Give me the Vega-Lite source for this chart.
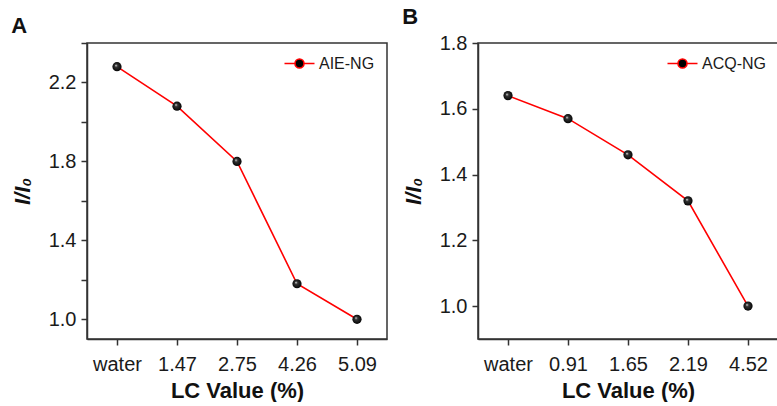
{
  "$schema": "https://vega.github.io/schema/vega-lite/v6.json",
  "padding": {"left": 10, "top": 5, "right": 0, "bottom": 0},
  "spacing": 13,
  "background": "white",
  "config": {
    "font": "Liberation Sans",
    "view": {"stroke": "#333333", "strokeWidth": 1.5},
    "axis": {
      "grid": false,
      "domainColor": "#333333",
      "domainWidth": 1.5,
      "tickColor": "#333333",
      "tickWidth": 1.5,
      "tickSize": 6,
      "labelFontSize": 20,
      "labelColor": "#1a1a1a",
      "labelFont": "Liberation Sans",
      "titleFont": "Liberation Sans",
      "titleFontSize": 22,
      "titleFontWeight": "bold",
      "titleColor": "#111111"
    },
    "title": {"fontSize": 22, "fontWeight": "bold", "anchor": "start", "frame": "bounds", "offset": 4, "color": "#111111", "font": "Liberation Sans"},
    "legend": {
      "title": null,
      "orient": "top-right",
      "offset": 6,
      "padding": 6,
      "symbolType": "M-2,0H-0.6M0.6,0H2M0.6,0A0.6,0.6,0,1,1,-0.6,0A0.6,0.6,0,1,1,0.6,0Z",
      "symbolSize": 225,
      "symbolStrokeWidth": 1.6,
      "labelFontSize": 16,
      "labelOffset": 11,
      "labelColor": "#1a1a1a",
      "labelFont": "Liberation Sans"
    }
  },
  "resolve": {"scale": {"stroke": "independent"}, "legend": {"stroke": "independent"}},
  "hconcat": [
    {
      "title": {"text": "A"},
      "width": 300,
      "height": 296,
      "data": {"values": [
        {"lc": "water", "ratio": 2.28, "series": "AIE-NG"},
        {"lc": "1.47", "ratio": 2.08, "series": "AIE-NG"},
        {"lc": "2.75", "ratio": 1.80, "series": "AIE-NG"},
        {"lc": "4.26", "ratio": 1.18, "series": "AIE-NG"},
        {"lc": "5.09", "ratio": 1.00, "series": "AIE-NG"}
      ]},
      "encoding": {
        "x": {"field": "lc", "type": "ordinal", "sort": null, "scale": {"type": "point", "padding": 0.5},
              "axis": {"title": "LC Value (%)", "labelAngle": 0, "labelPadding": 9, "titlePadding": 6}},
        "y": {"field": "ratio", "type": "quantitative", "scale": {"domain": [0.9, 2.4], "nice": false, "zero": false},
              "axis": {"title": "I/I₀", "titleFontStyle": "italic",
                       "values": [1.0, 1.2, 1.4, 1.6, 1.8, 2.0, 2.2, 2.4],
                       "labelExpr": "round(datum.value*10)%4==2 ? format(datum.value,'.1f') : ''",
                       "labelPadding": 5, "titlePadding": 14,
                       "encode": {"ticks": {"update": {"x2": {"signal": "round(datum.value*10)%4==0 ? -3 : -6"}}}}}}
      },
      "layer": [
        {"mark": {"type": "line", "strokeWidth": 1.6},
         "encoding": {"stroke": {"field": "series", "type": "nominal", "scale": {"range": ["#ff0000"]},
           "legend": {"encode": {"symbols": {"update": {"fill": {"value": "#000000"},
             "stroke": {"value": {"gradient": "linear", "x1": 0, "y1": 0, "x2": 1, "y2": 0, "stops": [
               {"offset": 0, "color": "#ff0000"}, {"offset": 0.33, "color": "#ff0000"}, {"offset": 0.33, "color": "#000000"},
               {"offset": 0.67, "color": "#000000"}, {"offset": 0.67, "color": "#ff0000"}, {"offset": 1, "color": "#ff0000"}]}}}}}}}}},
        {"mark": {"type": "point", "filled": true, "size": 85, "opacity": 1, "strokeWidth": 0,
                  "fill": {"gradient": "radial", "x1": 0.38, "y1": 0.35, "r1": 0, "x2": 0.5, "y2": 0.5, "r2": 0.55,
                           "stops": [{"offset": 0, "color": "#e8e8e8"}, {"offset": 0.3, "color": "#333333"}, {"offset": 1, "color": "#000000"}]}}}
      ]
    },
    {
      "title": {"text": "B"},
      "width": 300,
      "height": 296,
      "data": {"values": [
        {"lc": "water", "ratio": 1.64, "series": "ACQ-NG"},
        {"lc": "0.91", "ratio": 1.57, "series": "ACQ-NG"},
        {"lc": "1.65", "ratio": 1.46, "series": "ACQ-NG"},
        {"lc": "2.19", "ratio": 1.32, "series": "ACQ-NG"},
        {"lc": "4.52", "ratio": 1.00, "series": "ACQ-NG"}
      ]},
      "encoding": {
        "x": {"field": "lc", "type": "ordinal", "sort": null, "scale": {"type": "point", "padding": 0.5},
              "axis": {"title": "LC Value (%)", "labelAngle": 0, "labelPadding": 9, "titlePadding": 6}},
        "y": {"field": "ratio", "type": "quantitative", "scale": {"domain": [0.9, 1.8], "nice": false, "zero": false},
              "axis": {"title": "I/I₀", "titleFontStyle": "italic",
                       "values": [1.0, 1.2, 1.4, 1.6, 1.8],
                       "format": ".1f",
                       "labelPadding": 5, "titlePadding": 14}}
      },
      "layer": [
        {"mark": {"type": "line", "strokeWidth": 1.6},
         "encoding": {"stroke": {"field": "series", "type": "nominal", "scale": {"range": ["#ff0000"]},
           "legend": {"encode": {"symbols": {"update": {"fill": {"value": "#000000"},
             "stroke": {"value": {"gradient": "linear", "x1": 0, "y1": 0, "x2": 1, "y2": 0, "stops": [
               {"offset": 0, "color": "#ff0000"}, {"offset": 0.33, "color": "#ff0000"}, {"offset": 0.33, "color": "#000000"},
               {"offset": 0.67, "color": "#000000"}, {"offset": 0.67, "color": "#ff0000"}, {"offset": 1, "color": "#ff0000"}]}}}}}}}}},
        {"mark": {"type": "point", "filled": true, "size": 85, "opacity": 1, "strokeWidth": 0,
                  "fill": {"gradient": "radial", "x1": 0.38, "y1": 0.35, "r1": 0, "x2": 0.5, "y2": 0.5, "r2": 0.55,
                           "stops": [{"offset": 0, "color": "#e8e8e8"}, {"offset": 0.3, "color": "#333333"}, {"offset": 1, "color": "#000000"}]}}}
      ]
    }
  ]
}
